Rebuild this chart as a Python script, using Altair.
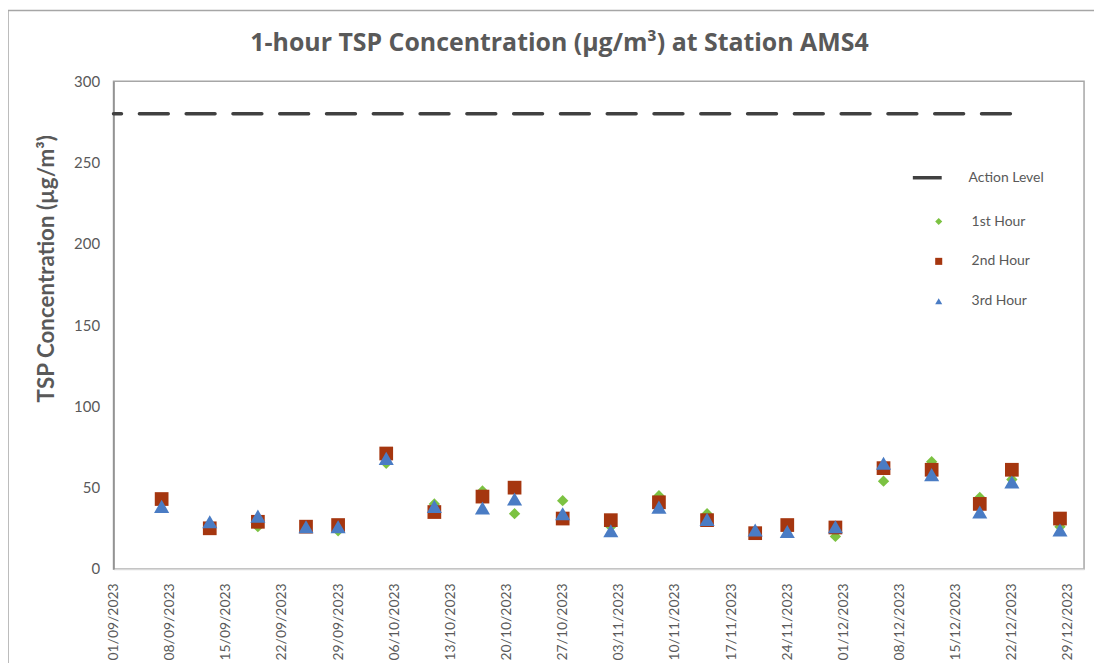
import altair as alt
import pandas as pd

dates = ["2023-09-07", "2023-09-13", "2023-09-19", "2023-09-25", "2023-09-29",
         "2023-10-05", "2023-10-11", "2023-10-17", "2023-10-21", "2023-10-27",
         "2023-11-02", "2023-11-08", "2023-11-14", "2023-11-20", "2023-11-24",
         "2023-11-30", "2023-12-06", "2023-12-12", "2023-12-18", "2023-12-22",
         "2023-12-28"]
hour1 = [41, 27, 26, 26, 23.5, 65, 40, 48, 34, 42, 26, 45, 34, 23, 24, 20, 54, 66, 44, 55, 26]
hour2 = [43, 25, 29, 26, 27, 71, 35, 44.5, 50, 31, 30, 41, 30, 22, 27, 25.5, 62, 61, 40, 61, 31]
hour3 = [38.5, 29, 32.5, 26, 26, 68, 38.5, 37.5, 43, 34, 23.5, 38, 30.5, 24, 23, 26, 65, 58, 35, 53.5, 24]
series_names = ["1st Hour", "2nd Hour", "3rd Hour"]
series_colors = ["#7CC242", "#A5360F", "#4A7CC4"]
series_shapes = ["diamond", "square", "triangle-up"]
series_sizes = [130, 190, 230]
action_dates = ["2023-09-01", "2023-12-22"]
action_values = [280, 280]
tick_dates = ["2023-09-01", "2023-09-08", "2023-09-15", "2023-09-22", "2023-09-29",
              "2023-10-06", "2023-10-13", "2023-10-20", "2023-10-27", "2023-11-03",
              "2023-11-10", "2023-11-17", "2023-11-24", "2023-12-01", "2023-12-08",
              "2023-12-15", "2023-12-22", "2023-12-29"]
x_domain = ["2023-09-01", "2023-12-31"]
title_text = "1-hour TSP Concentration (µg/m³) at Station AMS4"

FONT = "Lato"
GREY = "#595959"
W, H = 975, 490

rows = []
for i, (name, vals) in enumerate(zip(series_names, [hour1, hour2, hour3])):
    for d, v in zip(dates, vals):
        rows.append({"date": d, "value": v, "series": name, "ord": i, "sz": series_sizes[i]})
pts = pd.DataFrame(rows)
act = pd.DataFrame({"date": action_dates, "value": action_values, "series": ["Action Level"] * 2})


def dt(s):
    y, m, d = s.split("-")
    return alt.DateTime(year=int(y), month=int(m), date=int(d), utc=True)


xenc = alt.X(
    "date:T",
    scale=alt.Scale(type="utc", domain=[dt(s) for s in x_domain]),
    axis=alt.Axis(
        values=[dt(s) for s in tick_dates],
        labelExpr="utcFormat(datum.value, '%d/%m/%Y')",
        labelAngle=-90, labelAlign="right", labelBaseline="middle", labelPadding=14,
        labelFont=FONT, labelFontSize=14, labelColor=GREY, ticks=False,
        domainColor="#D9D9D9", domainWidth=1.5, grid=False, title=None, labelOverlap=False,
    ),
)
yenc = alt.Y(
    "value:Q",
    scale=alt.Scale(domain=[0, 300], nice=False),
    axis=alt.Axis(
        values=[0, 50, 100, 150, 200, 250, 300], labelFont=FONT, labelFontSize=15,
        labelColor=GREY, labelPadding=14, ticks=False, grid=False,
        domainColor="#8C8C8C", domainWidth=1.5,
        title="TSP Concentration (µg/m³)", titleFont=FONT, titleFontSize=22.5,
        titleFontWeight="bold", titleColor=GREY,
        titleX=-67, titleY=188, titleAlign="center", titleBaseline="middle", titleAngle=-90,
    ),
)

border = alt.Chart(pd.DataFrame({"a": [0]})).mark_rect(
    fill=None, stroke="#A6A6A6", strokeWidth=1.5
).encode(x=alt.value(-106), x2=alt.value(1000), y=alt.value(-71), y2=alt.value(700))

title = alt.Chart(pd.DataFrame({"t": [title_text]})).mark_text(
    font="Open Sans", fontSize=25, fontWeight="bold", color=GREY, align="center", baseline="alphabetic"
).encode(text="t:N", x=alt.value(448), y=alt.value(-30.5))

line = alt.Chart(act).mark_line(
    color="#404040", strokeWidth=3.5, strokeCap="round", strokeDashOffset=21
).encode(
    x=xenc, y=yenc,
    strokeDash=alt.StrokeDash(
        "series:N",
        scale=alt.Scale(domain=["Action Level"], range=[[29, 18]]),
        legend=alt.Legend(
            orient="none", legendX=801, legendY=76, title=None, padding=0,
            symbolType="stroke", symbolSize=1444, symbolStrokeWidth=3.5,
            symbolStrokeColor="#404040",
            labelFont=FONT, labelFontSize=14, labelColor=GREY, labelOffset=16,
        ),
    ),
)

points = alt.Chart(pts).mark_point(filled=True, opacity=1).encode(
    x=xenc, y=yenc,
    color=alt.Color(
        "series:N",
        scale=alt.Scale(domain=series_names, range=series_colors),
        legend=alt.Legend(
            orient="none", legendX=822, legendY=134, title=None, padding=0,
            symbolSize=50, rowPadding=26, symbolOpacity=1,
            labelFont=FONT, labelFontSize=14, labelColor=GREY, labelOffset=26,
        ),
    ),
    shape=alt.Shape("series:N", scale=alt.Scale(domain=series_names, range=series_shapes)),
    size=alt.Size("sz:Q", scale=None),
    order=alt.Order("ord:Q"),
)

chart = alt.layer(border, title, line, points).resolve_scale(
    strokeDash="independent"
).properties(
    width=W, height=H,
    autosize=alt.AutoSizeParams(type="none"),
    padding={"left": 106, "top": 72, "right": 10, "bottom": 100},
).configure_view(stroke="#A6A6A6", strokeWidth=1.5).configure_legend(
    symbolStrokeWidth=0
)

chart.save("out.html", embed_options={"renderer": "svg", "actions": False})
